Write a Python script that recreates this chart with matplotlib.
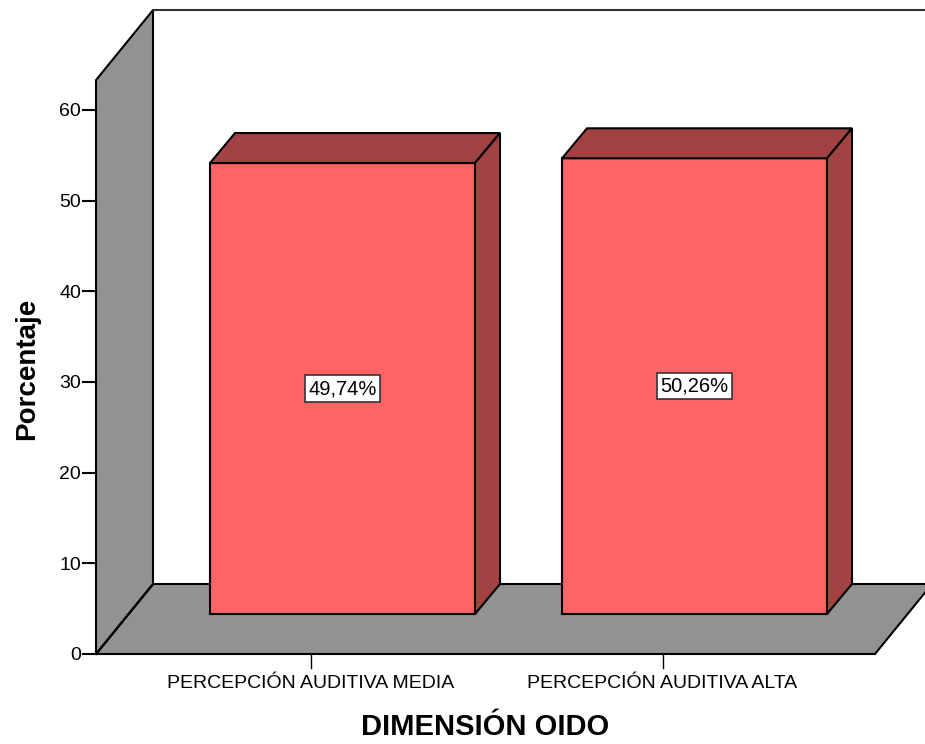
import numpy as np
import matplotlib.pyplot as plt
from matplotlib.patches import Polygon

plt.rcParams['font.family'] = ['Liberation Sans', 'DejaVu Sans']

# data
categorias = ['PERCEPCIÓN AUDITIVA MEDIA', 'PERCEPCIÓN AUDITIVA ALTA']
porcentajes = [49.74, 50.26]
etiquetas = ['49,74%', '50,26%']
yticks = [0, 10, 20, 30, 40, 50, 60]

# colours
c_front = '#FF6464'
c_dark = '#A34242'
c_wall = '#929292'
lw = 1.5

# scene geometry (x in pixels, y in percent)
px_per_unit = (654 - 110) / 60.0
y_max = 63.3          # top of the walls at the front plane
x0 = 96               # front-left corner of the floor
x_floor_end = 875
depth_dx, depth_dy = 57, 70 / px_per_unit      # full box depth
front_dx, front_dy = 32, 40 / px_per_unit      # bars' front plane
bar_dx, bar_dy = depth_dx - front_dx, depth_dy - front_dy
bar_w = 265
cat_x0, cat_step = 310.5, 352

fig = plt.figure(figsize=(9.25, 7.44), dpi=100)
ax = fig.add_axes([0, 0, 1, 1])
ax.set_xlim(0, 925)
ax.set_ylim(-(744 - 654) / px_per_unit, 654 / px_per_unit)
ax.axis('off')

# floor
floor = Polygon([(x0, 0), (x_floor_end, 0),
                 (x_floor_end + depth_dx, depth_dy), (x0 + depth_dx, depth_dy)],
                closed=True, facecolor=c_wall, edgecolor='black', lw=lw, zorder=1)
ax.add_patch(floor)

# left wall
wall = Polygon([(x0, 0), (x0, y_max), (x0 + depth_dx, y_max + depth_dy),
                (x0 + depth_dx, depth_dy)],
               closed=True, facecolor=c_wall, edgecolor='black', lw=lw, zorder=1)
ax.add_patch(wall)
ax.plot([x0, x0 + depth_dx], [0, depth_dy], color='black', lw=lw, zorder=2)

# back wall top edge
ax.plot([x0 + depth_dx, 925], [y_max + depth_dy] * 2, color='#333333', lw=lw, zorder=1)

# y axis ticks
for t in yticks:
    ax.plot([x0 - 13, x0], [t, t], color='black', lw=lw, zorder=2)
    ax.text(x0 - 15, t - 0.2, str(t), ha='right', va='center', fontsize=14)

ax.text(27, 31.5, 'Porcentaje', rotation=90, ha='center', va='center',
        fontsize=20, fontweight='bold')

# bars
for i, (cat, val, lab) in enumerate(zip(categorias, porcentajes, etiquetas)):
    cx = cat_x0 + cat_step * i
    left = cx + front_dx - bar_w / 2
    right = left + bar_w
    base = front_dy
    top = base + val
    front = Polygon([(left, base), (right, base), (right, top), (left, top)],
                    closed=True, facecolor=c_front, edgecolor='black', lw=lw, zorder=3)
    roof = Polygon([(left, top), (right, top), (right + bar_dx, top + bar_dy),
                    (left + bar_dx, top + bar_dy)],
                   closed=True, facecolor=c_dark, edgecolor='black', lw=lw, zorder=3)
    side = Polygon([(right, base), (right + bar_dx, base + bar_dy),
                    (right + bar_dx, top + bar_dy), (right, top)],
                   closed=True, facecolor=c_dark, edgecolor='black', lw=lw, zorder=3)
    for p in (front, roof, side):
        ax.add_patch(p)
    ax.text(cx + front_dx, base + val / 2, lab, ha='center', va='center', fontsize=14.5,
            zorder=4, bbox=dict(boxstyle='square,pad=0.18', facecolor='white',
                                edgecolor='#333333', lw=1.2))
    # category tick and label
    ax.plot([cx, cx], [0, -14 / px_per_unit], color='black', lw=1, zorder=2)
    ax.text(cx, -30 / px_per_unit, cat, ha='center', va='center', fontsize=14)

ax.text(485, -73 / px_per_unit, 'DIMENSIÓN OIDO', ha='center', va='center',
        fontsize=21, fontweight='bold')

fig.savefig('out.png', dpi=100)
